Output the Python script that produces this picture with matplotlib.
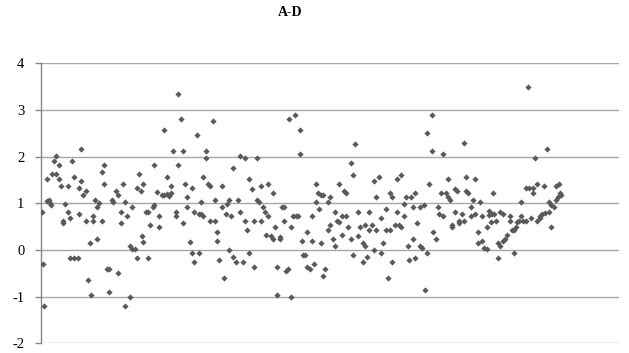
import numpy as np
import matplotlib
matplotlib.use('Agg')
import matplotlib.pyplot as plt

# sample index (axis 0..400)
x = [
    0.7, 1.2, 2.3, 4.2, 4.2, 5.8, 6.2, 7.2, 7.4, 9.0, 10.4, 10.4, 12.2, 12.2, 13.6,
    15.0, 15.0, 16.8, 18.5, 18.5, 19.8, 19.8, 21.5, 23.1, 23.1, 25.4, 26.3, 26.3,
    27.7, 27.7, 29.3, 31.1, 31.1, 32.8, 34.1, 34.4, 35.8, 35.8, 37.6, 39.0, 39.0,
    40.4, 42.2, 42.2, 43.6, 43.6, 45.4, 47.1, 47.1, 48.9, 50.1, 51.9, 53.5, 53.5,
    55.1, 55.1, 56.8, 58.1, 58.4, 59.8, 61.6, 61.6, 63.0, 63.0, 64.8, 66.2, 66.2,
    67.6, 69.2, 69.7, 70.8, 70.8, 72.4, 74.1, 74.1, 75.7, 77.3, 78.4, 78.4, 80.1,
    81.4, 81.4,
    85.3, 86.9, 83.7, 85.1, 86.9, 88.6, 90.2, 90.2, 91.6, 93.4, 93.4, 95.0, 95.0,
    96.6, 98.0, 98.0, 99.6, 101.2, 101.2, 102.9, 104.2, 104.2, 106.1, 106.1, 107.7,
    109.3, 109.3, 110.9, 110.9, 112.3, 112.3, 113.9, 113.9, 115.5, 117.2, 117.2,
    118.8, 120.4, 120.4, 122.0, 122.0, 123.4, 125.2, 125.2, 126.8, 128.2, 128.5,
    129.8, 130.1, 131.5, 133.1, 133.1, 134.7, 136.3, 137.9, 137.9, 139.5, 141.2,
    141.4, 142.8, 144.2, 144.2, 146.0, 147.4, 147.6, 149.2, 149.2, 150.6, 152.2,
    152.2, 153.8, 155.2, 155.7, 157.3, 157.3, 158.9, 160.3, 160.3, 161.9, 163.3,
    163.3, 165.1, 165.1, 166.8, 168.1, 168.1, 169.8, 171.1, 171.4, 172.8, 172.8,
    174.6, 176.0, 176.2, 177.8, 179.2, 179.2, 180.8, 181.1, 182.4, 183.8, 183.8,
    185.9, 187.3, 187.5, 188.9, 190.5, 190.5, 191.9, 192.1, 193.7, 193.7, 195.1,
    195.3, 196.7, 198.6, 198.6, 200.0, 200.0, 201.8, 203.2, 203.2, 204.8, 206.2,
    206.4, 208.0, 208.0, 209.7, 211.0, 211.0, 212.7, 214.3, 214.5, 215.9, 215.9,
    217.5, 219.3, 219.3, 220.7, 222.6, 222.6, 224.0, 224.0, 225.8, 227.2, 227.2,
    228.8, 230.4, 230.4, 232.0, 232.0, 233.6, 235.0, 235.3, 236.9, 238.5, 238.5,
    239.9, 241.5, 241.5, 242.9, 243.1, 244.7, 246.1, 246.1, 247.9, 249.3, 249.3,
    250.9, 250.9, 252.6, 254.2, 254.4, 256.0, 257.2, 257.4, 259.0, 259.0, 260.4,
    262.3, 262.3, 263.9, 265.3, 265.5, 266.9, 267.1, 268.7, 270.3, 270.3, 271.5,
    273.3, 274.9, 275.2, 276.6, 278.4, 278.4, 280.0, 281.4, 281.4, 283.0, 284.6,
    284.6, 286.2, 286.2, 287.6, 289.0,
    289.5, 291.1, 292.5, 292.5, 294.1, 294.1, 295.7, 297.3, 297.3, 298.9, 300.5,
    300.5, 302.1, 302.1, 303.8, 305.1, 305.1, 306.8, 308.4, 308.4, 310.2, 310.2,
    311.6, 311.8, 313.0, 313.2, 314.8, 316.2, 316.5, 317.8, 317.8, 319.5, 319.5,
    321.1, 322.7, 324.3, 324.3, 325.9, 327.5, 327.5, 328.9, 329.1, 330.5, 332.1,
    332.1, 333.8, 335.4, 335.8, 337.2, 337.4, 338.8, 340.2, 340.2, 341.8, 343.4,
    343.4, 345.1, 345.3, 346.7, 348.3, 348.5, 349.9, 351.3, 351.5, 353.1, 353.1,
    354.7, 356.4, 356.1, 357.7, 358.2, 359.4, 359.8,
]

# A-D values
y = [
    0.82, -0.31, -1.2, 1.53, 1.04, 1.06, 1.0, 0.97, 1.63, 1.91, 2.01, 1.63, 1.81,
    1.53, 1.37, 0.61, 0.57, 0.99, 0.82, 1.37, 0.68, -0.17, 1.91, 1.56, -0.17,
    -0.17, 1.33, 0.78, 2.16, 1.47, 1.17, 1.27, 0.63, -0.64, 0.14, -0.96, 0.73,
    0.63, 1.07, 0.24, 0.93, 1.0, 0.63, 1.66, 1.81, 1.41, -0.4, -0.4, -0.9, 1.07,
    1.02, 1.27, 1.17, -0.5, 0.81, 0.57, 1.41, -1.2, 1.03, 0.73, -1.0, 0.09, 0.93,
    0.03, 0.03, -0.17, 1.33, 1.63, 1.27, 0.29, 0.17, 1.41, 0.82, 0.82, -0.17,
    0.54, 0.93, 1.81, 0.97, 1.25, 0.49, 0.73,
    2.56, 1.56, 1.17, 1.17, 1.2, 1.16, 1.37, 1.21, 2.11, 0.82, 0.73, 3.35, 1.81,
    2.8, 2.11, 0.57, 1.41, 1.13, 0.93, 0.17, 1.32, -0.06, -0.26, 0.82, 2.46,
    -0.06, 0.78, 1.02, 0.78, 1.56, 0.73, 2.11, 1.96, 1.41, 1.37, 0.63, 2.76,
    0.63, 1.07, 0.39, 0.19, -0.21, 1.37, 0.93, -0.61, 0.78, 0.99, -0.01, 1.07,
    0.73, 1.76, -0.16, -0.26, 1.07, 2.01, 0.82, -0.26, 1.96, 0.63, 0.43, 1.51,
    -0.06, 1.31, 0.63, -0.36, 1.96, 1.07, 1.02, 1.37, 0.63, 0.93, 0.82, 0.33,
    1.41, 0.73, 0.29, 1.23, 0.23, 0.49, -0.36, -0.96, 0.27, 0.23, 0.93, 0.93,
    0.63, -0.46, -0.41, 2.8, 0.49, -1.0, 0.73, 2.9, 0.73, 0.73, 2.56, 2.06,
    0.19, -0.11, -0.11, 0.39, -0.36,
    -0.41, 0.73, 0.19, -0.31, 1.41, 1.02, 1.23, 0.87, 0.14, 1.17, -0.56, 1.17,
    -0.41, 1.02, 0.43, 1.13, 0.54, 0.24, 0.82, 0.09, 0.63, 1.41, 0.59, 0.33,
    0.73, 1.27, 1.21, 0.73, 0.49, 1.86, 0.24, 1.61, -0.11, 2.26, 0.82, 0.29,
    0.49, 0.14, -0.26, 0.53, 0.09, -0.16, 0.82, 0.43, 0.53, 1.47, -0.01, 1.13,
    0.43, 1.56, 0.68, -0.06, 0.14, 0.87, 0.43, -0.61, 1.23, 0.43, 1.13, -0.26,
    0.53, 1.51, 0.82, 0.53, 1.61, 0.49, 0.98, 0.73, 1.13, 0.09, -0.21, 1.13,
    0.93, 0.24, 1.23, -0.17, 0.57, 0.93, 0.09, 0.04, 0.97, -0.86, 2.51, -0.06,
    1.41, 2.9, 2.11, 0.39, 0.24, 0.93, 0.78, 1.23, 2.06, 0.73, 1.23, 1.51, 1.13,
    1.07, 0.49, 0.54, 0.82, 1.31, 1.27, 0.57,
    0.61, 0.78, 2.3, 0.63, 1.56, 1.27, 1.23, 0.73, 0.93, 1.07, 1.53, 0.78, 0.39,
    0.14, 1.02, 0.73, 0.19, 0.04, 0.03, 0.49, 0.83, 0.74, 0.59, 0.78, 1.23, 0.77,
    0.63, 0.14, -0.17, 0.09, 0.82, 0.78, 0.19, 0.24, 0.33, 0.73, 0.63, 0.43,
    -0.06, 0.43, 0.49, 0.59, 0.63, 0.73, 1.02, 0.63, 0.63, 1.33, 3.5, 1.33, 0.68,
    1.32, 1.21, 1.96, 1.41, 0.63, 0.68, 0.73, 0.77, 1.37, 0.79, 2.16, 0.82, 1.02,
    0.49, 0.96, 0.93, 1.37, 1.07, 1.13, 1.41, 1.23, 1.17,
]

y_ticks = [-2, -1, 0, 1, 2, 3, 4]

W, H = 629, 353
fig = plt.figure(figsize=(W / 100, H / 100), dpi=100)
ax = fig.add_axes([41 / W, 9.7 / H, 578 / W, 280 / H])

ax.scatter(x, y, marker='D', s=10, color='#595959', linewidths=0, zorder=3)

ax.set_xlim(0, 400)
ax.set_ylim(-2, 4)
ax.set_yticks(y_ticks)
ax.set_yticklabels([str(t) for t in y_ticks], family='Liberation Serif', fontsize=10.5)
ax.set_xticks([])
ax.grid(axis='y', color='#a6a6a6', linewidth=1.0, zorder=0)
ax.tick_params(axis='y', length=4, width=1, color='#868686', pad=8)

for side in ['top', 'right', 'bottom']:
    ax.spines[side].set_visible(False)
ax.spines['left'].set_color('#868686')
ax.spines['left'].set_linewidth(1.0)

fig.text(290 / W, 1 - 13 / H, 'A-D', ha='center', va='center',
         family='Liberation Serif', fontweight='bold', fontsize=10)

fig.savefig('out.png', dpi=100)
